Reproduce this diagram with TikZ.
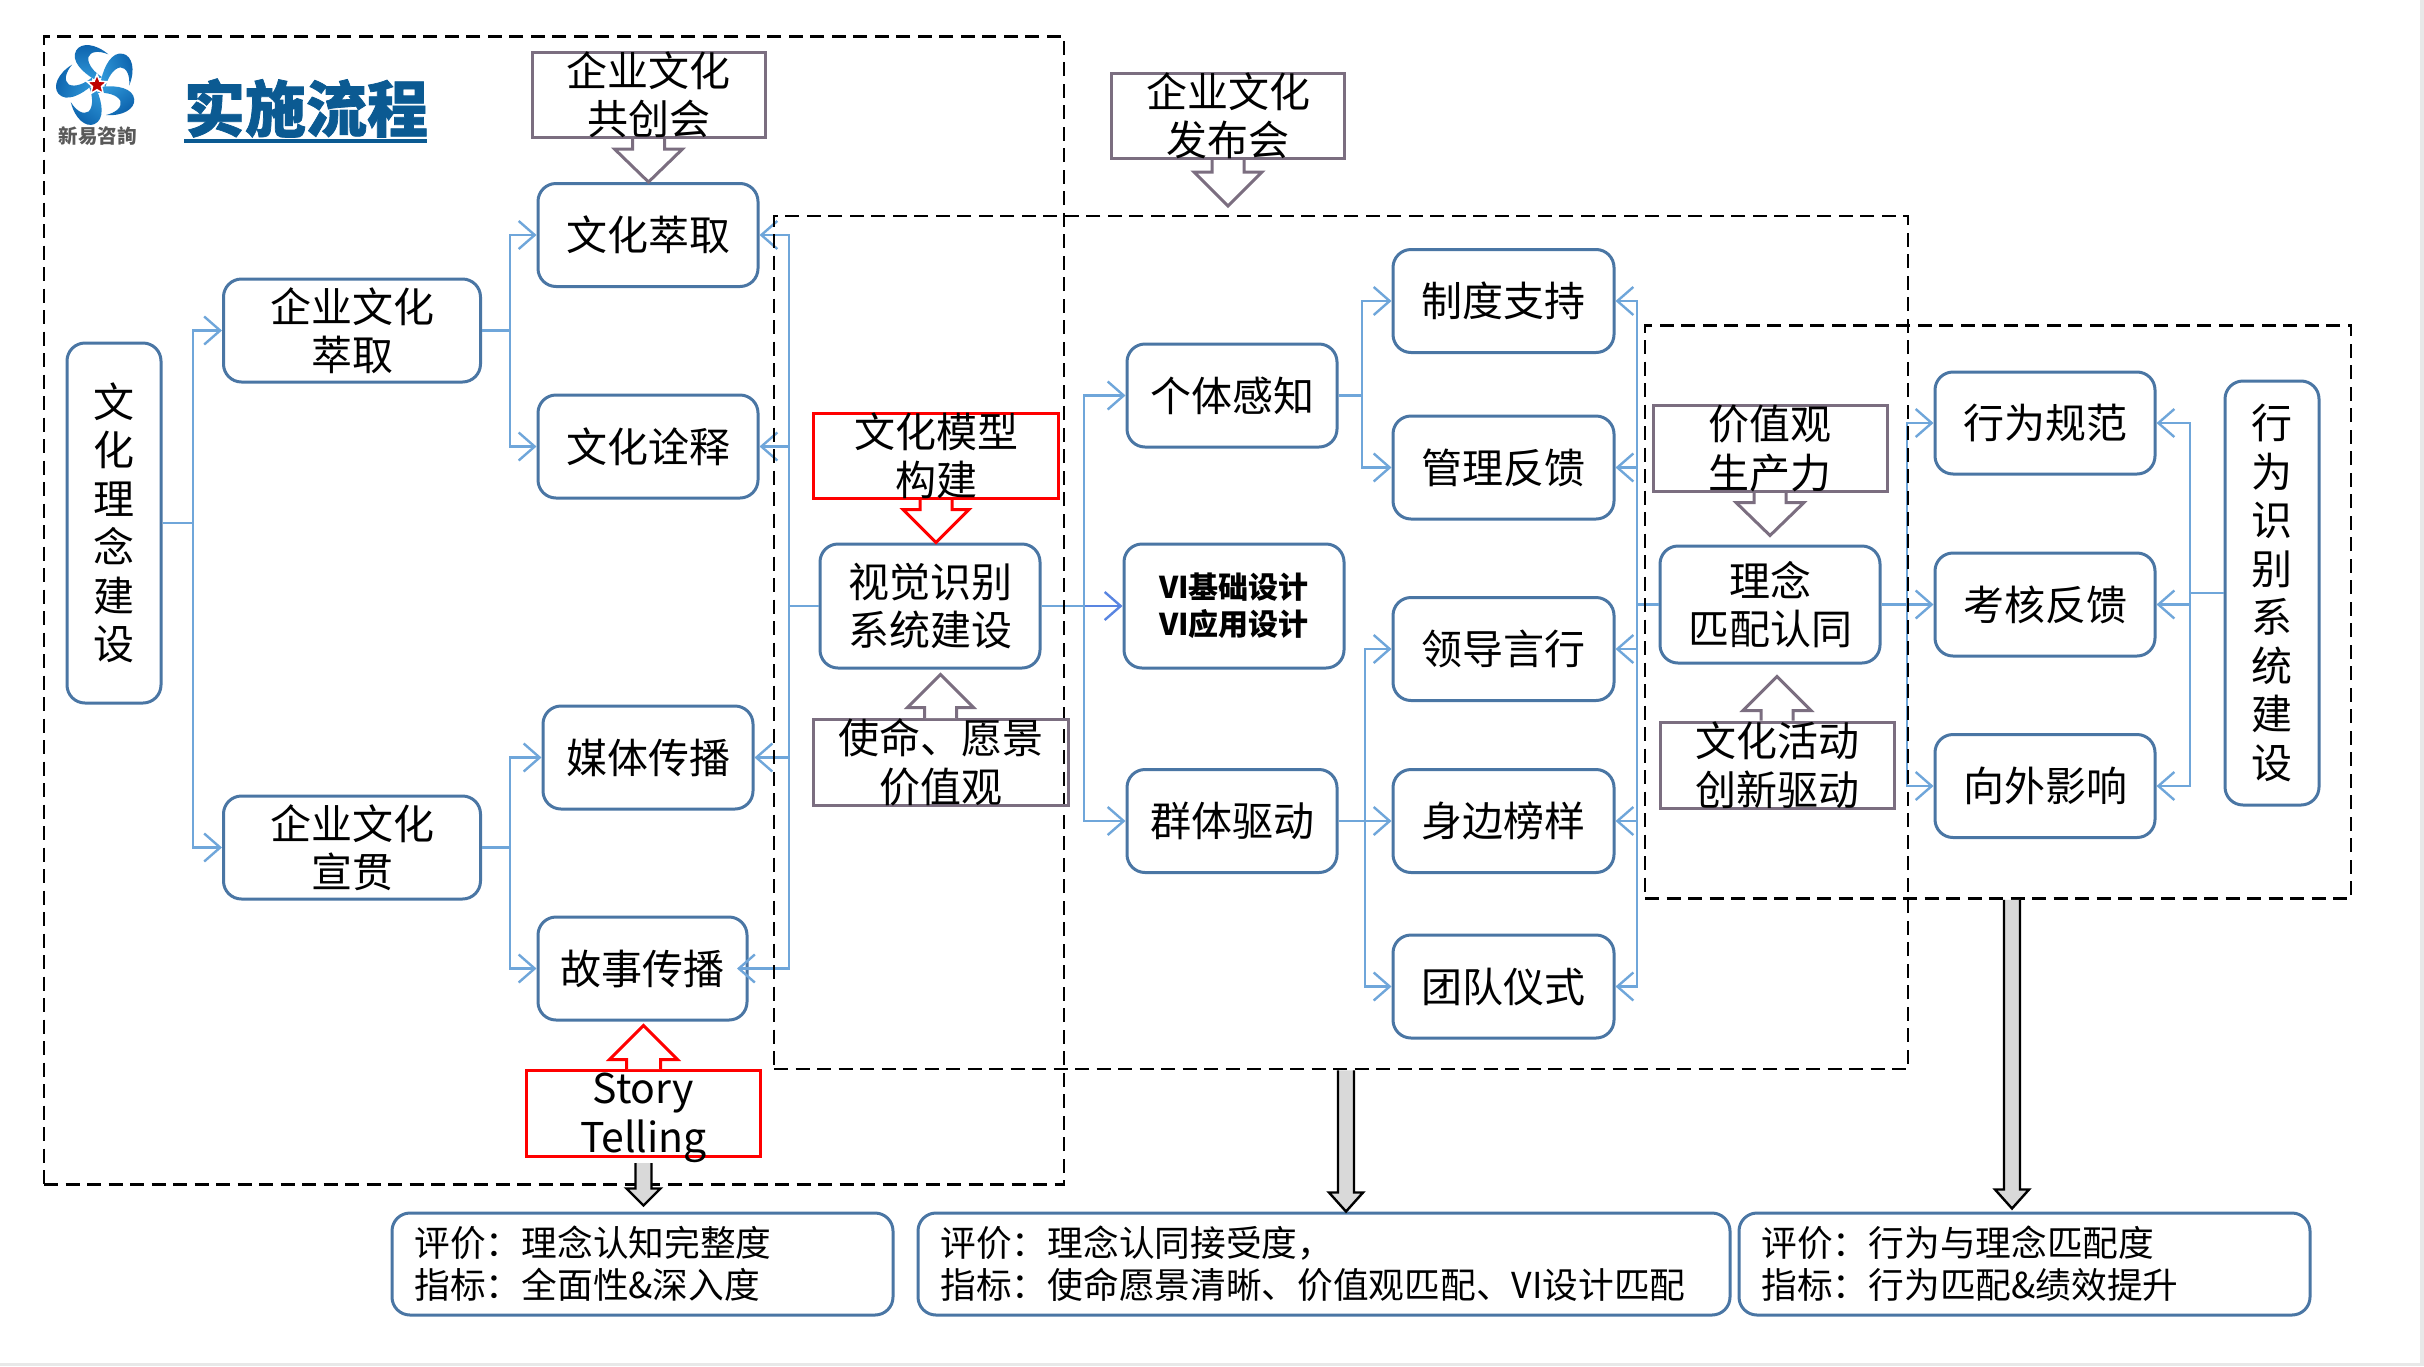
\documentclass[tikz,border=0pt]{standalone}
\usepackage{fontspec}
\setmainfont{Noto Sans CJK SC}
\usetikzlibrary{arrows.meta,calc,shapes.geometric}
\definecolor{boxedge}{HTML}{4A76A4}
\definecolor{linkblue}{HTML}{6FA6DA}
\definecolor{plumgray}{HTML}{7B6E80}
\definecolor{titleblue}{HTML}{0B5A92}
\definecolor{logodark}{HTML}{0A5FAA}
\definecolor{logolight}{HTML}{2F97D8}
\tikzset{
  bigfont/.style={font=\fontsize{41}{48.5}\selectfont},
  rbox/.style={draw=boxedge,line width=3,rounded corners=18,fill=white,inner sep=0,align=center,bigfont},
  evalbox/.style={draw=boxedge,line width=3,rounded corners=18,fill=white,inner sep=0,align=left,
    font=\fontsize{35.7}{42}\selectfont},
  rectplum/.style={draw=plumgray,line width=3,inner sep=0},
  rectred/.style={draw=red,line width=3,inner sep=0},
  rtext/.style={inner sep=0,align=center,bigfont},
  dashbox/.style={draw=black,line width=2.8,dash pattern=on 14 off 7.5,inner sep=0},
  conn/.style={draw=linkblue,line width=2.5,-{Straight Barb[length=16,width=28,line width=2.4]}},
  baplum/.style={draw=plumgray,line width=3,fill=white},
  bared/.style={draw=red,line width=3,fill=white},
  bagray/.style={draw=black,line width=2.4,fill=black!15},
}
% style, start, tip, head length (signed), shaft half width, head half width
\newcommand\blockarrow[6]{%
  \coordinate (ba-s) at (#2);
  \coordinate (ba-t) at (#3);
  \coordinate (ba-e) at (ba-s |- ba-t);
  \path[#1,draw=none] ($(ba-s)+(-#5,0)$) -- ($(ba-e)+(-#5,-#4)$) -- ($(ba-e)+(-#6,-#4)$) -- (ba-e)
     -- ($(ba-e)+(#6,-#4)$) -- ($(ba-e)+(#5,-#4)$) -- ($(ba-s)+(#5,0)$) -- cycle;
  \path[#1,fill=none] ($(ba-s)+(-#5,0)$) -- ($(ba-e)+(-#5,-#4)$) -- ($(ba-e)+(-#6,-#4)$) -- (ba-e)
     -- ($(ba-e)+(#6,-#4)$) -- ($(ba-e)+(#5,-#4)$) -- ($(ba-s)+(#5,0)$);
}
\begin{document}
\begin{tikzpicture}[x=1pt,y=-1pt]
\useasboundingbox (0,0) rectangle (2424,1366);
\fill[white] (0,0) rectangle (2424,1366);
\fill[black!9] (0,1363) rectangle (2424,1366);
\fill[black!9] (2420,0) rectangle (2424,1366);

% logo
\begin{scope}[shift={(97.3,84.3)}]
  \foreach \a in {0,72,144,216,288}{
    \begin{scope}[rotate=\a]
      \shade[top color=logodark,bottom color=logolight,shading angle=\a]
        (-3,-5) .. controls (-15,-12) and (-27,-24) .. (-21,-34)
        .. controls (-16,-42) and (-2,-41) .. (11,-30)
        .. controls (1,-34) and (-7,-33) .. (-9,-27)
        .. controls (-10,-20) and (-3,-12) .. (5,-7) -- cycle;
    \end{scope}
  }
\end{scope}
\node[star,star points=5,star point ratio=2.2,fill=red!75!black,draw=white,line width=1.5,inner sep=0,minimum size=21] (logostar) at (97,85) {};
\node[inner sep=0,text=black!65,font=\fontsize{19.5}{19.5}\bfseries\selectfont] (logotext) at (97.5,136) {新易咨詢};
\node[inner sep=0,text=titleblue,font=\fontsize{61}{61}\bfseries\addfontfeature{FakeBold=1.2}\selectfont] (title) at (306,108) {实施流程};
\coordinate (ul1) at (184,141);
\coordinate (ul2) at (427,141);
\draw[titleblue,line width=4] (ul1) -- (ul2);

% bus positions
\coordinate (bus1) at (193,0);
\coordinate (bus2) at (510,0);
\coordinate (bus3) at (789,0);
\coordinate (bus4) at (1084,0);
\coordinate (bus5) at (1362,0);
\coordinate (bus6) at (1365,0);
\coordinate (bus7) at (1637,0);
\coordinate (bus8) at (1907,0);
\coordinate (bus9) at (2190,0);
\coordinate (storytip) at (737,968.5);

% rounded boxes
\node[rbox,minimum width=94,minimum height=360] (root) at (114,523) {文\\化\\理\\念\\建\\设};
\node[rbox,minimum width=257,minimum height=103] (extract) at (352,330.5) {企业文化\\萃取};
\node[rbox,minimum width=257,minimum height=103] (spread) at (352,847.5) {企业文化\\宣贯};
\node[rbox,minimum width=220,minimum height=103] (cuiqu) at (648,235) {文化萃取};
\node[rbox,minimum width=220,minimum height=103] (quanshi) at (648,446.5) {文化诠释};
\node[rbox,minimum width=210,minimum height=103] (media) at (648,757.5) {媒体传播};
\node[rbox,minimum width=209,minimum height=103] (story) at (642.5,968.5) {故事传播};
\node[rbox,minimum width=220,minimum height=124] (visual) at (930,606) {视觉识别\\系统建设};
\node[rbox,minimum width=210,minimum height=103] (ganzhi) at (1232,395.5) {个体感知};
\node[rbox,minimum width=220,minimum height=124,font=\fontsize{30}{37}\bfseries\selectfont] (vi) at (1234,606) {VI基础设计\\VI应用设计};
\node[rbox,minimum width=210,minimum height=103] (qunti) at (1232,821) {群体驱动};
\node[rbox,minimum width=221,minimum height=103] (zhidu) at (1503.5,301) {制度支持};
\node[rbox,minimum width=221,minimum height=103] (guanli) at (1503.5,467.5) {管理反馈};
\node[rbox,minimum width=221,minimum height=103] (lingdao) at (1503.5,649) {领导言行};
\node[rbox,minimum width=221,minimum height=103] (bangyang) at (1503.5,821) {身边榜样};
\node[rbox,minimum width=221,minimum height=103] (yishi) at (1503.5,986.5) {团队仪式};
\node[rbox,minimum width=220,minimum height=117] (linian) at (1770,604.5) {理念\\匹配认同};
\node[rbox,minimum width=220,minimum height=102] (guifan) at (2045,423) {行为规范};
\node[rbox,minimum width=220,minimum height=103] (kaohe) at (2045,604.5) {考核反馈};
\node[rbox,minimum width=220,minimum height=103] (xiangwai) at (2045,786) {向外影响};
\node[rbox,minimum width=94,minimum height=424] (behavior) at (2272,593) {行\\为\\识\\别\\系\\统\\建\\设};
\node[evalbox,minimum width=501,minimum height=102,text width=456] (eval1) at (642.5,1264) {评价：理念认知完整度\\指标：全面性\&深入度};
\node[evalbox,minimum width=812,minimum height=102,text width=767] (eval2) at (1324,1264) {评价：理念认同接受度，\\指标：使命愿景清晰、价值观匹配、VI设计匹配};
\node[evalbox,minimum width=571,minimum height=102,text width=526] (eval3) at (2024.5,1264) {评价：行为与理念匹配度\\指标：行为匹配\&绩效提升};

% connectors
\draw[conn] (root.east) -- (bus1 |- root.east) |- (extract.west);
\draw[conn] (root.east) -- (bus1 |- root.east) |- (spread.west);
\draw[conn] (extract.east) -- (bus2 |- extract.east) |- (cuiqu.west);
\draw[conn] (extract.east) -- (bus2 |- extract.east) |- (quanshi.west);
\draw[conn] (spread.east) -- (bus2 |- spread.east) |- (media.west);
\draw[conn] (spread.east) -- (bus2 |- spread.east) |- (story.west);
\draw[conn] (visual.west) -- (bus3 |- visual.west) |- (cuiqu.east);
\draw[conn] (visual.west) -- (bus3 |- visual.west) |- (quanshi.east);
\draw[conn] (visual.west) -- (bus3 |- visual.west) |- (media.east);
\draw[conn] (visual.west) -- (bus3 |- visual.west) |- (storytip);
\draw[conn] (visual.east) -- (bus4 |- visual.east) |- (ganzhi.west);
\draw[conn,draw=linkblue!80!blue] (visual.east) -- (vi.west);
\draw[conn] (visual.east) -- (bus4 |- visual.east) |- (qunti.west);
\draw[conn] (ganzhi.east) -- (bus5 |- ganzhi.east) |- (zhidu.west);
\draw[conn] (ganzhi.east) -- (bus5 |- ganzhi.east) |- (guanli.west);
\draw[conn] (qunti.east) -- (bus6 |- qunti.east) |- (lingdao.west);
\draw[conn] (qunti.east) -- (bangyang.west);
\draw[conn] (qunti.east) -- (bus6 |- qunti.east) |- (yishi.west);
\draw[conn] (linian.west) -- (bus7 |- linian.west) |- (zhidu.east);
\draw[conn] (linian.west) -- (bus7 |- linian.west) |- (guanli.east);
\draw[conn] (linian.west) -- (bus7 |- linian.west) |- (lingdao.east);
\draw[conn] (linian.west) -- (bus7 |- linian.west) |- (bangyang.east);
\draw[conn] (linian.west) -- (bus7 |- linian.west) |- (yishi.east);
\draw[conn] (linian.east) -- (bus8 |- linian.east) |- (guifan.west);
\draw[conn] (linian.east) -- (kaohe.west);
\draw[conn] (linian.east) -- (bus8 |- linian.east) |- (xiangwai.west);
\draw[conn] (behavior.west) -- (bus9 |- behavior.west) |- (guifan.east);
\draw[conn] (behavior.west) -- (bus9 |- behavior.west) |- (kaohe.east);
\draw[conn] (behavior.west) -- (bus9 |- behavior.west) |- (xiangwai.east);

% dashed frames
\node[dashbox,minimum width=1020,minimum height=1148] (dash1) at (554,610.5) {};
\node[dashbox,minimum width=1134,minimum height=853] (dash2) at (1341,642.5) {};
\node[dashbox,minimum width=706,minimum height=573] (dash3) at (1998,612) {};

% annotation rectangles
\node[rectplum,minimum width=233,minimum height=85] (gongchuang) at (648.5,95) {};
\node[rectplum,minimum width=233,minimum height=85] (fabu) at (1228,116) {};
\node[rectred,minimum width=245,minimum height=85] (moxing) at (936,456) {};
\node[rectplum,minimum width=255,minimum height=86] (shiming) at (940.5,762.5) {};
\node[rectplum,minimum width=234,minimum height=86] (jiazhi) at (1770,448.5) {};
\node[rectplum,minimum width=234,minimum height=86] (huodong) at (1777,765) {};
\node[rectred,minimum width=234,minimum height=86] (storyrect) at (643.5,1113.5) {};

% block arrows
\blockarrow{baplum}{gongchuang.south}{cuiqu.north}{33}{16}{34}
\blockarrow{baplum}{fabu.south}{$(fabu.south)+(0,46)$}{34}{16}{34}
\blockarrow{bared}{moxing.south}{visual.north}{33}{16}{33}
\blockarrow{baplum}{shiming.north}{$(visual.south)+(0,5)$}{-33}{16}{33}
\blockarrow{baplum}{jiazhi.south}{$(linian.north)+(0,-9)$}{33}{16}{34}
\blockarrow{baplum}{huodong.north}{$(linian.south)+(0,12)$}{-34}{16}{34}
\blockarrow{bared}{storyrect.north}{$(story.south)+(0,4)$}{-34}{17}{34}
\blockarrow{bagray}{$(storyrect.south)+(0,5)$}{$(eval1.north)+(0,-6)$}{17}{8}{17}
\blockarrow{bagray}{$(dash2.south)+(5,0)$}{eval2.north}{19}{8}{17}
\blockarrow{bagray}{$(dash3.south)+(14,0)$}{$(eval3.north)+(0,-3)$}{19}{8}{17}

% annotation texts
\node[rtext] (t-gongchuang) at (gongchuang) {企业文化\\共创会};
\node[rtext] (t-fabu) at (fabu) {企业文化\\发布会};
\node[rtext] (t-moxing) at (moxing) {文化模型\\构建};
\node[rtext] (t-shiming) at (shiming) {使命、愿景\\价值观};
\node[rtext] (t-jiazhi) at (jiazhi) {价值观\\生产力};
\node[rtext] (t-huodong) at (huodong) {文化活动\\创新驱动};
\node[rtext,yshift=-4.5pt] (t-story) at (storyrect) {Story\\Telling};
\end{tikzpicture}
\end{document}
